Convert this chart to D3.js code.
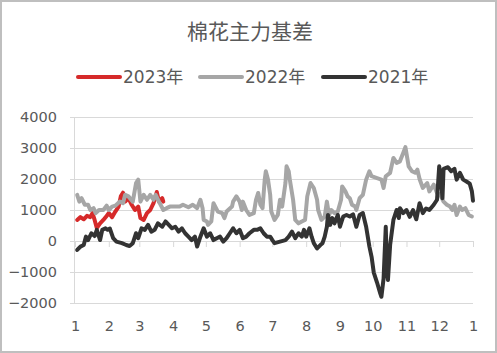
<!DOCTYPE html>
<html><head><meta charset="utf-8">
<script src="https://cdn.jsdelivr.net/npm/d3@7"></script>
<style>
body{margin:0;background:#fff;}
svg{display:block;}
</style></head>
<body>
<svg id="chart" width="497" height="353"></svg>
<script>
// ---- data (day offset from Jan 1, basis value) ----
const title = "棉花主力基差";
const seriesNames = ["2023年", "2022年", "2021年"];
const seriesColors = ["#d62a2a", "#a6a6a6", "#333333"];
const yTickValues = [-2000, -1000, 0, 1000, 2000, 3000, 4000];
const xTickLabels = ["1","2","3","4","5","6","7","8","9","10","11","12","1"];

const days2023 = [2,5,8,11,14,16,18,20,23,26,29,31,34,37,40,42,44,46,49,52,55,58,60,63,66,69,72,75,77,80,81];
const vals2023 = [680,770,700,810,770,900,680,420,570,680,810,900,770,950,1110,1440,1560,1270,1380,1170,1000,1110,740,680,900,1000,1220,1580,1270,1380,1270];

const days2022 = [2,4,6,9,12,14,17,19,22,26,29,31,34,37,41,44,46,49,53,56,58,60,63,66,69,72,74,77,81,84,87,92,96,99,104,108,112,115,117,118,121,122,125,127,131,135,137,139,144,145,148,151,153,154,157,160,164,166,168,170,172,174,175,177,179,180,183,186,188,190,193,194,196,197,200,202,205,208,211,213,216,219,222,223,226,229,231,233,235,238,241,244,245,248,250,252,254,257,258,261,264,267,270,272,277,281,283,285,289,292,295,298,301,303,306,309,312,314,316,319,323,325,329,332,335,338,341,344,346,348,350,353,355,358,361,364];
const vals2022 = [1490,1270,1380,1170,1170,1000,1060,900,1000,1000,1140,1000,1110,1140,1270,1220,1490,1440,1270,1870,1980,1270,1490,1330,1490,1330,1490,1270,1000,1060,1110,1110,1110,1170,1090,1170,1060,1330,1060,680,630,520,630,1220,950,900,740,950,1110,1270,1440,1270,1000,1270,1000,840,900,1330,1550,1170,1060,1980,2250,1980,1490,950,680,840,1330,1110,1870,2410,2250,1980,1330,680,570,630,680,1440,1870,1710,1330,1000,680,790,1270,840,1000,900,950,1330,1760,1600,1440,1380,1170,1110,1000,1380,1490,1980,2250,2090,2030,1980,1710,2090,2200,2680,2520,2570,2840,3030,2410,2250,2200,2300,2000,1710,1870,1600,1820,1550,1490,1270,1170,1110,1000,1170,840,1110,1000,1060,840,790];

const days2021 = [2,5,8,10,12,15,18,20,23,25,28,30,32,35,38,43,47,50,53,56,58,61,64,67,70,73,76,80,83,86,89,92,95,98,101,104,107,110,112,115,118,121,124,127,130,133,136,139,142,145,148,151,154,157,160,164,167,170,173,176,179,181,183,188,193,196,199,202,205,208,210,212,215,217,219,222,225,227,229,231,232,234,236,238,241,243,246,249,252,255,258,261,264,267,270,272,274,277,280,281,283,285,286,287,289,292,295,297,298,301,304,307,310,313,316,319,322,325,329,332,334,336,337,338,342,345,348,350,353,356,359,362,364,365];
const vals2021 = [-290,-180,-130,140,30,250,160,360,30,360,410,360,400,90,-20,-70,-130,-160,-70,250,90,410,360,520,300,360,570,460,630,520,410,460,300,410,250,140,30,140,-180,140,410,140,250,30,90,140,-20,90,250,410,250,360,90,140,250,360,360,410,250,140,140,30,-70,-20,30,140,300,90,250,140,360,140,410,140,-70,-240,-130,-70,140,460,840,520,740,570,840,460,790,840,790,860,460,840,900,460,-180,-510,-1020,-1340,-1700,-1800,-1210,460,-900,-1260,-130,680,1000,740,1060,900,1000,780,1000,700,1220,900,1050,1000,1170,1330,2410,1850,1380,2330,2380,2250,2330,1980,2200,1980,1920,1850,1600,1300];

// ---- build ----
const base = new Date(2021, 0, 1);
const toDate = d => d3.timeDay.offset(base, d);
const series = [
  {name: seriesNames[0], color: seriesColors[0], pts: days2023.map((d,i)=>({x: toDate(d), y: vals2023[i]}))},
  {name: seriesNames[1], color: seriesColors[1], pts: days2022.map((d,i)=>({x: toDate(d), y: vals2022[i]}))},
  {name: seriesNames[2], color: seriesColors[2], pts: days2021.map((d,i)=>({x: toDate(d), y: vals2021[i]}))}
];

const W = 497, H = 353;
const plot = {left: 75, right: 473, top: 117, bottom: 303};
const svg = d3.select("#chart");
const txtColor = "#595959";
const gridColor = "#d9d9d9";
const latinFont = "'DejaVu Sans', 'Noto Sans CJK SC', sans-serif";

svg.append("rect").attr("x", 1).attr("y", 1).attr("width", W - 2).attr("height", H - 2)
  .attr("fill", "#fff").attr("stroke", "#bfbfbf").attr("stroke-width", 2);

svg.append("text").attr("x", 250).attr("y", 39).attr("text-anchor", "middle")
  .attr("font-family", "'Noto Sans CJK SC', sans-serif").attr("font-size", 21)
  .attr("fill", txtColor).text(title);

const x = d3.scaleTime().domain([base, new Date(2022, 0, 1)]).range([plot.left, plot.right]);
const y = d3.scaleLinear().domain([-2000, 4000]).range([plot.bottom, plot.top]);

// gridlines
const grid = svg.append("g").attr("transform", `translate(${plot.left},0)`)
  .call(d3.axisLeft(y).tickValues(yTickValues).tickSize(-(plot.right - plot.left)).tickFormat(""));
grid.select(".domain").remove();
grid.selectAll("line").attr("stroke", gridColor).attr("stroke-width", 1);

// y axis
const yAx = svg.append("g").attr("transform", `translate(${plot.left},0)`)
  .call(d3.axisLeft(y).tickValues(yTickValues).tickSize(5).tickPadding(13).tickFormat(d3.format("d")));
yAx.select(".domain").attr("stroke", gridColor).attr("d", `M-0.5,${plot.top}V${plot.bottom}`);
yAx.selectAll("line").attr("stroke", gridColor);
yAx.selectAll("text").attr("fill", txtColor).attr("font-family", latinFont).attr("font-size", 14.5);

// x ticks at zero line
const monthTicks = d3.timeMonth.range(base, new Date(2022, 0, 2));
const xAx0 = svg.append("g").attr("transform", `translate(0,${y(0)})`)
  .call(d3.axisBottom(x).tickValues(monthTicks).tickSize(6).tickFormat(""));
xAx0.select(".domain").attr("stroke", gridColor);
xAx0.selectAll("line").attr("stroke", gridColor);

// x labels at bottom
const xAxL = svg.append("g").attr("transform", `translate(0,${plot.bottom})`)
  .call(d3.axisBottom(x).tickValues(monthTicks).tickSize(0).tickPadding(18)
    .tickFormat((d, i) => xTickLabels[i]));
xAxL.select(".domain").remove();
xAxL.selectAll("text").attr("fill", txtColor).attr("font-family", latinFont).attr("font-size", 14.5);

// lines
const line = d3.line().x(d => x(d.x)).y(d => y(d.y));
svg.append("g").selectAll("path").data(series).join("path")
  .attr("d", d => line(d.pts)).attr("fill", "none")
  .attr("stroke", d => d.color).attr("stroke-width", 4)
  .attr("stroke-linejoin", "round").attr("stroke-linecap", "round");

// legend
const legendX = [78, 200, 323];
const lg = svg.append("g").selectAll("g").data(series).join("g")
  .attr("transform", (d, i) => `translate(${legendX[i]},77)`);
lg.append("line").attr("x1", 0).attr("x2", 42).attr("y1", 0).attr("y2", 0)
  .attr("stroke", d => d.color).attr("stroke-width", 4).attr("stroke-linecap", "round");
lg.append("text").attr("x", 45).attr("y", 6).attr("font-family", latinFont).attr("font-size", 17)
  .attr("fill", txtColor).text(d => d.name);
</script>
</body></html>
